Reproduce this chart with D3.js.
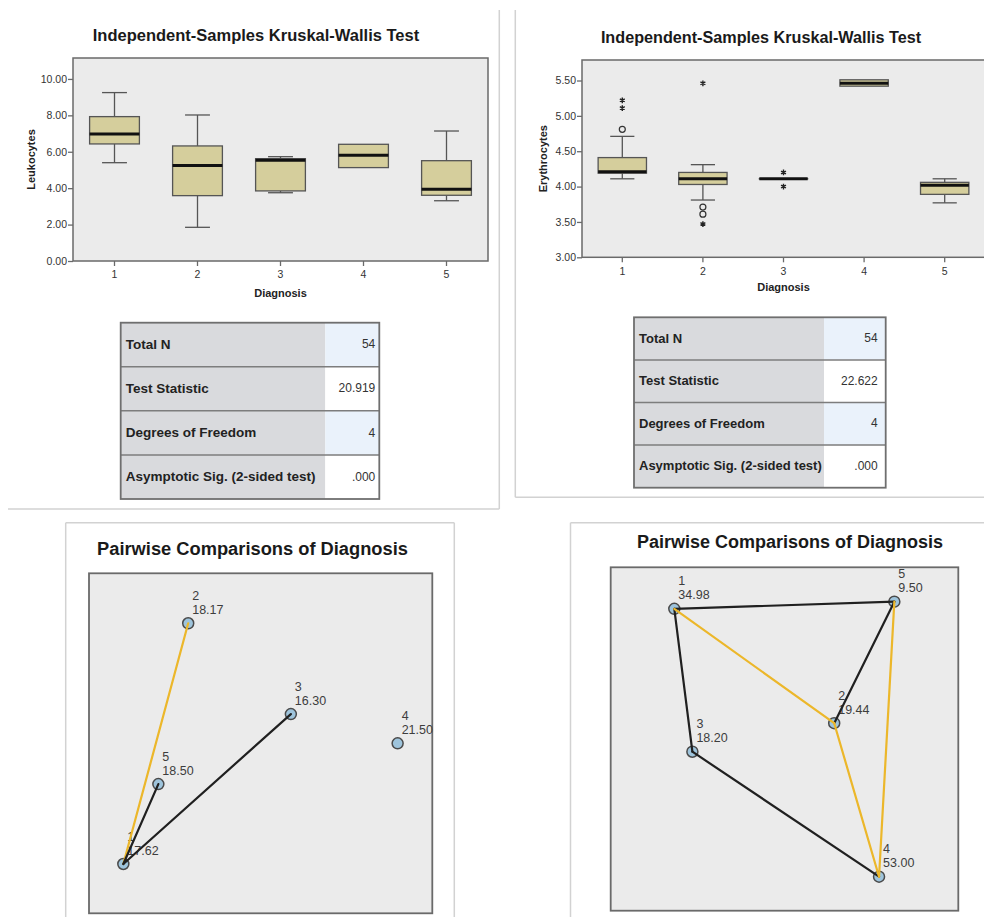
<!DOCTYPE html>
<html>
<head>
<meta charset="utf-8">
<script src="https://cdn.jsdelivr.net/npm/d3@7"></script>
<style>
  html, body { margin: 0; padding: 0; background: #fff; }
  svg { display: block; font-family: "Liberation Sans", Arial, sans-serif; }
</style>
</head>
<body>
<svg id="chart" width="984" height="917"></svg>
<script>
// ---- Data ----------------------------------------------------------------
const diagnoses = ["1", "2", "3", "4", "5"];

// Leukocytes by diagnosis (box plot summaries)
const leukTicks = [0, 2, 4, 6, 8, 10];
const leukWhiskerLow  = [5.40, 1.85, 3.75, 5.13, 3.31];
const leukQ1          = [6.43, 3.59, 3.85, 5.13, 3.61];
const leukMedian      = [6.98, 5.24, 5.53, 5.81, 3.94];
const leukQ3          = [7.93, 6.32, 5.62, 6.41, 5.51];
const leukWhiskerHigh = [9.25, 8.02, 5.73, 6.41, 7.14];
const leukOutliers = [];
const leukExtremes = [];

// Erythrocytes by diagnosis (box plot summaries)
const eryTicks = [3.0, 3.5, 4.0, 4.5, 5.0, 5.5];
const eryWhiskerLow  = [4.11, 3.81, 4.11, 5.42, 3.77];
const eryQ1          = [4.19, 4.03, 4.11, 5.42, 3.89];
const eryMedian      = [4.21, 4.11, 4.11, 5.46, 4.02];
const eryQ3          = [4.41, 4.20, 4.11, 5.51, 4.06];
const eryWhiskerHigh = [4.71, 4.31, 4.11, 5.51, 4.11];
const eryOutliers = [{ group: "1", value: 4.81 }, { group: "2", value: 3.71 }, { group: "2", value: 3.61 }];
const eryExtremes = [
  { group: "1", value: 5.11 }, { group: "1", value: 5.22 },
  { group: "2", value: 5.46 }, { group: "2", value: 3.47 },
  { group: "3", value: 4.20 }, { group: "3", value: 4.00 }
];

// Kruskal-Wallis test summary tables
const tableLabels = ["Total N", "Test Statistic", "Degrees of Freedom", "Asymptotic Sig. (2-sided test)"];
const leukTableValues = ["54", "20.919", "4", ".000"];
const eryTableValues  = ["54", "22.622", "4", ".000"];

// Pairwise comparison graphs: mean ranks and layout positions (0-100 layout space)
const leukMeanRanks = ["17.62", "18.17", "16.30", "21.50", "18.50"];
const leukLayoutX = [10.0, 28.9, 58.8, 89.9, 20.2];
const leukLayoutY = [14.5, 85.3, 58.6, 50.0, 38.0];
const leukEdges = [["1", "2", "sig"], ["1", "5", "ns"], ["1", "3", "ns"]];

const eryMeanRanks = ["34.98", "19.44", "18.20", "53.00", "9.50"];
const eryLayoutX = [18.3, 64.3, 23.5, 77.2, 81.6];
const eryLayoutY = [87.9, 54.6, 46.3, 9.9, 90.0];
const eryEdges = [
  ["1", "5", "ns"], ["1", "3", "ns"], ["5", "2", "ns"], ["3", "4", "ns"],
  ["1", "2", "sig"], ["2", "4", "sig"], ["5", "4", "sig"]
];

// ---- Styles --------------------------------------------------------------
const PLOT_BG = "#ebebeb";
const FRAME = "#6a6a6a";
const BOX_FILL = "#d5ce9c";
const BOX_STROKE = "#555";
const PANEL_LINE = "#d2d2d2";
const EDGE_COLOR = { sig: "#ecb72a", ns: "#202020" };

const svg = d3.select("#chart");

// ---- Panel frame lines ----------------------------------------------------
const frames = [
  [499.3, 10, 499.3, 509], [8, 509, 499.3, 509],
  [515.3, 10, 515.3, 497.3], [515.3, 497.3, 984, 497.3],
  [65.7, 522.7, 65.7, 917], [65.7, 522.7, 454.3, 522.7], [454.3, 522.7, 454.3, 917],
  [570.5, 522.7, 570.5, 917], [570.5, 522.7, 984, 522.7]
];
svg.append("g").selectAll("line").data(frames).join("line")
  .attr("x1", d => d[0]).attr("y1", d => d[1]).attr("x2", d => d[2]).attr("y2", d => d[3])
  .attr("stroke", PANEL_LINE).attr("stroke-width", 1.5);

// ---- Box plots -----------------------------------------------------------
function drawBoxPlot(o) {
  const g = svg.append("g");
  const x = d3.scaleBand().domain(diagnoses).range([o.left, o.right]).padding(0);
  const y = d3.scaleLinear().domain(o.domain).range([o.bottom, o.top]);

  g.append("text").attr("x", o.titleX).attr("y", o.titleY)
    .attr("text-anchor", "middle").attr("font-weight", "bold")
    .attr("font-size", o.titleSize).attr("fill", "#1a1a1a").text(o.title);

  g.append("rect").attr("x", o.left).attr("y", o.top)
    .attr("width", o.right - o.left).attr("height", o.bottom - o.top)
    .attr("fill", PLOT_BG);

  const yAxis = g.append("g").attr("transform", `translate(${o.left},0)`)
    .call(d3.axisLeft(y).tickValues(o.ticks).tickFormat(d3.format(".2f")).tickSize(5).tickPadding(1));
  const xAxis = g.append("g").attr("transform", `translate(0,${o.bottom})`)
    .call(d3.axisBottom(x).tickSize(5).tickPadding(5));
  [yAxis, xAxis].forEach(a => {
    a.select(".domain").remove();
    a.selectAll(".tick line").attr("stroke", FRAME).attr("stroke-width", 1.3);
    a.selectAll(".tick text").attr("font-size", 10.5).attr("fill", "#333")
      .attr("font-family", "'Liberation Sans', Arial, sans-serif");
  });

  g.append("text").attr("transform", `translate(${o.yLabelX},${(o.top + o.bottom) / 2}) rotate(-90)`)
    .attr("text-anchor", "middle").attr("font-weight", "bold").attr("font-size", 11)
    .attr("fill", "#222").text(o.yLabel);
  g.append("text").attr("x", (o.left + o.right) / 2).attr("y", o.xLabelY)
    .attr("text-anchor", "middle").attr("font-weight", "bold").attr("font-size", 11)
    .attr("fill", "#222").text("Diagnosis");

  const bw = x.bandwidth() * 0.6;
  const rows = diagnoses.map((d, i) => ({
    d, lo: o.low[i], q1: o.q1[i], med: o.med[i], q3: o.q3[i], hi: o.high[i]
  }));
  const box = g.selectAll(".box").data(rows).join("g").attr("class", "box")
    .attr("transform", r => `translate(${x(r.d) + x.bandwidth() / 2},0)`);

  // whiskers
  box.filter(r => r.hi > r.q3).append("line")
    .attr("y1", r => y(r.q3)).attr("y2", r => y(r.hi))
    .attr("stroke", BOX_STROKE).attr("stroke-width", 1.3);
  box.filter(r => r.lo < r.q1).append("line")
    .attr("y1", r => y(r.q1)).attr("y2", r => y(r.lo))
    .attr("stroke", BOX_STROKE).attr("stroke-width", 1.3);
  box.filter(r => r.hi > r.q3).append("line")
    .attr("x1", -bw / 4).attr("x2", bw / 4).attr("y1", r => y(r.hi)).attr("y2", r => y(r.hi))
    .attr("stroke", BOX_STROKE).attr("stroke-width", 1.3);
  box.filter(r => r.lo < r.q1).append("line")
    .attr("x1", -bw / 4).attr("x2", bw / 4).attr("y1", r => y(r.lo)).attr("y2", r => y(r.lo))
    .attr("stroke", BOX_STROKE).attr("stroke-width", 1.3);

  // boxes
  box.append("rect")
    .attr("x", -bw / 2).attr("width", bw)
    .attr("y", r => y(r.q3)).attr("height", r => Math.max(0.01, y(r.q1) - y(r.q3)))
    .attr("fill", BOX_FILL).attr("stroke", BOX_STROKE).attr("stroke-width", 1.3);
  // medians
  box.append("line")
    .attr("x1", -bw / 2).attr("x2", bw / 2).attr("y1", r => y(r.med)).attr("y2", r => y(r.med))
    .attr("stroke", "#111").attr("stroke-width", 3);

  // outliers (circles) and extremes (asterisks)
  g.selectAll(".outlier").data(o.outliers).join("circle").attr("class", "outlier")
    .attr("cx", p => x(p.group) + x.bandwidth() / 2).attr("cy", p => y(p.value))
    .attr("r", 3).attr("fill", "none").attr("stroke", "#333").attr("stroke-width", 1.2);
  const star = d3.symbol(d3.symbolAsterisk, 22);
  g.selectAll(".extreme").data(o.extremes).join("path").attr("class", "extreme")
    .attr("transform", p => `translate(${x(p.group) + x.bandwidth() / 2},${y(p.value)})`)
    .attr("d", star).attr("fill", "none").attr("stroke", "#222").attr("stroke-width", 1.4);

  // plot frame
  g.append("rect").attr("x", o.left).attr("y", o.top)
    .attr("width", o.right - o.left).attr("height", o.bottom - o.top)
    .attr("fill", "none").attr("stroke", FRAME).attr("stroke-width", 1.5);
}

drawBoxPlot({
  title: "Independent-Samples Kruskal-Wallis Test", titleX: 256, titleY: 41, titleSize: 16.5,
  left: 73, right: 488, top: 58, bottom: 261, domain: [0, 11.15], ticks: leukTicks,
  low: leukWhiskerLow, q1: leukQ1, med: leukMedian, q3: leukQ3, high: leukWhiskerHigh,
  outliers: leukOutliers, extremes: leukExtremes,
  yLabel: "Leukocytes", yLabelX: 35, xLabelY: 297
});

drawBoxPlot({
  title: "Independent-Samples Kruskal-Wallis Test", titleX: 761, titleY: 43, titleSize: 16.2,
  left: 582, right: 985, top: 60, bottom: 257.3, domain: [3, 5.79], ticks: eryTicks,
  low: eryWhiskerLow, q1: eryQ1, med: eryMedian, q3: eryQ3, high: eryWhiskerHigh,
  outliers: eryOutliers, extremes: eryExtremes,
  yLabel: "Erythrocytes", yLabelX: 547, xLabelY: 291
});

// ---- Test summary tables ---------------------------------------------------
function drawTable(o) {
  const g = svg.append("g");
  const rowY = d3.scaleBand().domain(tableLabels).range([o.top, o.bottom]);
  const rows = tableLabels.map((l, i) => ({ label: l, value: o.values[i], i }));

  g.selectAll(".lcell").data(rows).join("rect")
    .attr("x", o.left).attr("y", r => rowY(r.label))
    .attr("width", o.split - o.left).attr("height", rowY.bandwidth())
    .attr("fill", "#d9dadd");
  g.selectAll(".rcell").data(rows).join("rect")
    .attr("x", o.split).attr("y", r => rowY(r.label))
    .attr("width", o.right - o.split).attr("height", rowY.bandwidth())
    .attr("fill", r => r.i % 2 === 0 ? "#eaf2fb" : "#ffffff");

  g.selectAll(".rule").data(rows.slice(1)).join("line")
    .attr("x1", o.left).attr("x2", o.right)
    .attr("y1", r => rowY(r.label)).attr("y2", r => rowY(r.label))
    .attr("stroke", "#7d7d7d").attr("stroke-width", 1.5);

  g.selectAll(".label").data(rows).join("text")
    .attr("x", o.left + 5).attr("y", r => rowY(r.label) + rowY.bandwidth() / 2 + 0.5)
    .attr("dominant-baseline", "middle").attr("font-weight", "bold")
    .attr("font-size", o.labelSize).attr("fill", "#222").text(r => r.label);
  g.selectAll(".value").data(rows).join("text")
    .attr("x", o.right - o.pad).attr("y", r => rowY(r.label) + rowY.bandwidth() / 2 + 0.5)
    .attr("dominant-baseline", "middle").attr("text-anchor", "end")
    .attr("font-size", 12).attr("fill", "#333").text(r => r.value);

  g.append("rect").attr("x", o.left).attr("y", o.top)
    .attr("width", o.right - o.left).attr("height", o.bottom - o.top)
    .attr("fill", "none").attr("stroke", "#6f6f6f").attr("stroke-width", 1.8);
}

drawTable({ left: 120.7, right: 379.3, split: 325.3, top: 322.7, bottom: 499, values: leukTableValues, labelSize: 13.5, pad: 4 });
drawTable({ left: 634, right: 885.7, split: 824, top: 317.3, bottom: 487.7, values: eryTableValues, labelSize: 13, pad: 8 });

// ---- Pairwise comparison graphs -------------------------------------------
function drawPairwise(o) {
  const g = svg.append("g");
  const x = d3.scaleLinear().domain([0, 100]).range([o.left, o.right]);
  const y = d3.scaleLinear().domain([0, 100]).range([o.bottom, o.top]);
  const nodes = diagnoses.map((d, i) => ({ id: d, rank: o.ranks[i], px: x(o.lx[i]), py: y(o.ly[i]) }));
  const byId = new Map(nodes.map(n => [n.id, n]));

  g.append("text").attr("x", o.titleX).attr("y", o.titleY)
    .attr("text-anchor", "middle").attr("font-weight", "bold")
    .attr("font-size", o.titleSize).attr("fill", "#1a1a1a").text("Pairwise Comparisons of Diagnosis");

  g.append("rect").attr("x", o.left).attr("y", o.top)
    .attr("width", o.right - o.left).attr("height", o.bottom - o.top)
    .attr("fill", PLOT_BG).attr("stroke", FRAME).attr("stroke-width", 1.8);

  // node labels: diagnosis above mean rank
  const lab = g.selectAll(".lab").data(nodes).join("g").attr("class", "lab")
    .attr("transform", n => `translate(${n.px + 4},${n.py})`);
  lab.append("text").attr("y", -23.5).attr("font-size", 12.5).attr("fill", "#3d3d3d").text(n => n.id);
  lab.append("text").attr("y", -9.5).attr("font-size", 12.5).attr("fill", "#3d3d3d").text(n => n.rank);

  g.selectAll(".node").data(nodes).join("circle").attr("class", "node")
    .attr("cx", n => n.px).attr("cy", n => n.py).attr("r", 5.5)
    .attr("fill", "#9ec4dc").attr("stroke", "#4a4a4a").attr("stroke-width", 1.5);

  g.selectAll(".edge").data(o.edges).join("line").attr("class", "edge")
    .attr("x1", e => byId.get(e[0]).px).attr("y1", e => byId.get(e[0]).py)
    .attr("x2", e => byId.get(e[1]).px).attr("y2", e => byId.get(e[1]).py)
    .attr("stroke", e => EDGE_COLOR[e[2]]).attr("stroke-width", 2.2)
    .attr("stroke-linecap", "round");
}

drawPairwise({
  left: 89, right: 432.3, top: 573.3, bottom: 913.3, titleX: 252.5, titleY: 554.5, titleSize: 18.3,
  ranks: leukMeanRanks, lx: leukLayoutX, ly: leukLayoutY, edges: leukEdges
});
drawPairwise({
  left: 610.7, right: 958.3, top: 567.3, bottom: 910.7, titleX: 790, titleY: 548, titleSize: 18,
  ranks: eryMeanRanks, lx: eryLayoutX, ly: eryLayoutY, edges: eryEdges
});
</script>
</body>
</html>
